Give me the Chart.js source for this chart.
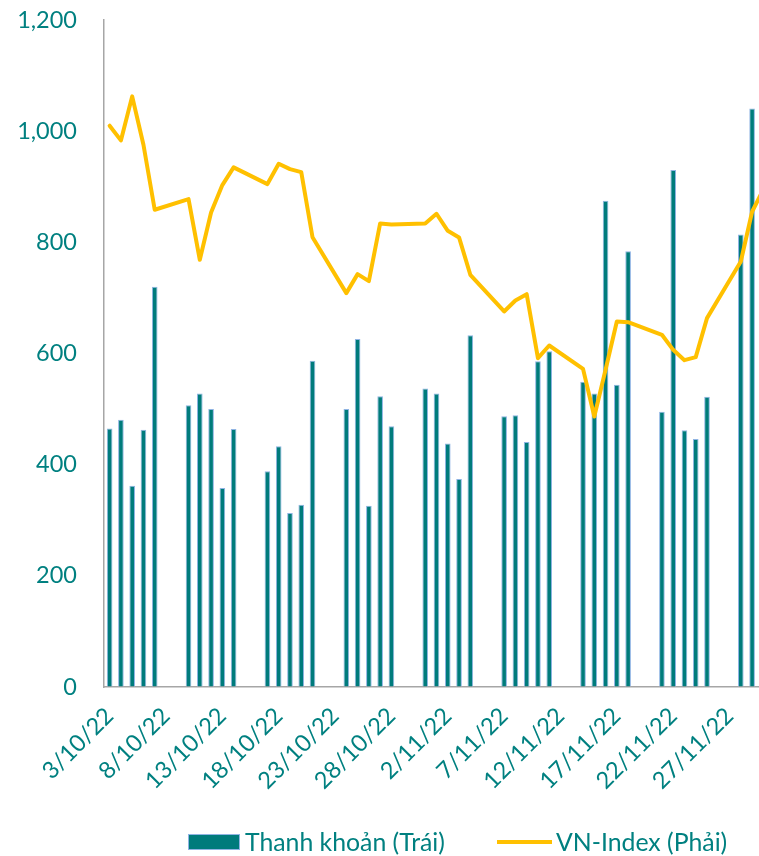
<!DOCTYPE html>
<html><head><meta charset="utf-8">
<script src="https://cdn.jsdelivr.net/npm/chart.js@4.4.1/dist/chart.umd.min.js"></script>
<style>
html,body{margin:0;padding:0;overflow:hidden;background:#fff;width:759px;height:856px}
#wrap{position:relative;width:770px;height:856px}
canvas{position:absolute;left:0;top:0}
.lg{position:absolute;font-family:Lato,'Open Sans',sans-serif;font-size:24.8px;color:#008080;line-height:28px;top:828px;white-space:nowrap}
.sw1{position:absolute;left:188px;top:834px;width:50px;height:14px;background:#007B7C;border:1px solid #8FB4E3}
.sw2{position:absolute;left:497px;top:840px;width:55px;height:4px;background:#FFC000}
</style></head>
<body>
<div id="wrap">
<canvas id="c" width="770" height="856"></canvas>
<div class="sw1"></div><span class="lg" style="left:245px">Thanh khoản (Trái)</span>
<div class="sw2"></div><span class="lg" style="left:556px">VN-Index (Phải)</span>
</div>
<script>
const categories = [
 '3/10/22','4/10/22','5/10/22','6/10/22','7/10/22','8/10/22','9/10/22',
 '10/10/22','11/10/22','12/10/22','13/10/22','14/10/22','15/10/22','16/10/22',
 '17/10/22','18/10/22','19/10/22','20/10/22','21/10/22','22/10/22','23/10/22',
 '24/10/22','25/10/22','26/10/22','27/10/22','28/10/22','29/10/22','30/10/22',
 '31/10/22','1/11/22','2/11/22','3/11/22','4/11/22','5/11/22','6/11/22',
 '7/11/22','8/11/22','9/11/22','10/11/22','11/11/22','12/11/22','13/11/22',
 '14/11/22','15/11/22','16/11/22','17/11/22','18/11/22','19/11/22','20/11/22',
 '21/11/22','22/11/22','23/11/22','24/11/22','25/11/22','26/11/22','27/11/22',
 '28/11/22','29/11/22','30/11/22'
];
const thanhKhoan = [
 465,481,362,463,720,null,null,
 507,528,500,358,464,null,null,
 388,433,313,328,587,null,null,
 500,626,326,523,469,null,null,
 537,528,438,374,633,null,null,
 487,489,441,586,604,null,null,
 549,528,875,544,784,null,null,
 495,930,462,446,522,null,null,
 814,1041,null
];
const vnIndex = [
 1086.6,1077.8,1104.2,1075.2,1036.2,null,null,
 1042.6,1006.2,1034.6,1051.0,1061.6,null,null,
 1051.6,1063.8,1060.6,1058.8,1019.7,null,null,
 986.2,997.6,993.4,1028.0,1027.4,null,null,
 1028.0,1033.8,1023.6,1019.6,997.2,null,null,
 975.2,981.8,985.6,947.2,954.8,null,null,
 940.8,912.2,940.2,969.2,968.8,null,null,
 961.2,952.2,946.0,947.8,971.2,null,null,
 1005.2,1035.0,1048.4
];
const xTickLabels = ['3/10/22','8/10/22','13/10/22','18/10/22','23/10/22','28/10/22','2/11/22','7/11/22','12/11/22','17/11/22','22/11/22','27/11/22'];
const yTicks = [0,200,400,600,800,1000,1200];
const seriesNames = ['Thanh khoản (Trái)','VN-Index (Phải)'];

const TEAL_TEXT = '#008080';
const FONT = {family: "Lato, 'Open Sans', sans-serif", size: 23.5};

new Chart(document.getElementById('c'), {
  type: 'bar',
  data: {
    labels: categories,
    datasets: [
      {
        type: 'line', label: seriesNames[1], data: vnIndex, yAxisID: 'y1',
        borderColor: '#FFC000', borderWidth: 4, pointRadius: 0, tension: 0,
        spanGaps: true, fill: false, order: 0,
        borderCapStyle: 'round', borderJoinStyle: 'round'
      },
      {
        type: 'bar', label: seriesNames[0], data: thanhKhoan, yAxisID: 'y',
        backgroundColor: '#007B7C', borderColor: '#8FB4E3', borderWidth: 1,
        barPercentage: 0.5, categoryPercentage: 1.0, order: 1
      }
    ]
  },
  options: {
    responsive: false, animation: false, devicePixelRatio: 1,
    layout: {padding: {top: 20, right: 1, bottom: 60, left: 0}},
    plugins: {legend: {display: false}, tooltip: {enabled: false}},
    scales: {
      x: {
        offset: true,
        grid: {display: false, drawTicks: false},
        border: {display: true, color: '#A6A6A6', width: 1.5},
        ticks: {
          autoSkip: false, minRotation: 45, maxRotation: 45,
          color: TEAL_TEXT, font: FONT, padding: 15, labelOffset: 0,
          callback: function(v, i){ const l = categories[i]; return xTickLabels.includes(l) ? l : null; }
        },
        afterFit: function(s){ s.height = 856 - 60 - 687; }
      },
      y: {
        position: 'left', min: yTicks[0], max: yTicks[yTicks.length-1],
        grid: {display: true, drawOnChartArea: false, drawTicks: true, tickLength: 27, color: 'rgba(0,0,0,0)'},
        border: {display: true, color: '#A6A6A6', width: 1.5},
        ticks: {
          stepSize: 200, color: TEAL_TEXT, font: FONT, padding: 0,
          callback: function(v){ return yTicks.includes(v) ? v.toLocaleString('en-US') : null; }
        },
        afterFit: function(s){ s.width = 104; }
      },
      y1: {
        position: 'right', display: false, min: 750, max: 1150
      }
    }
  }
});
</script>
</body></html>
